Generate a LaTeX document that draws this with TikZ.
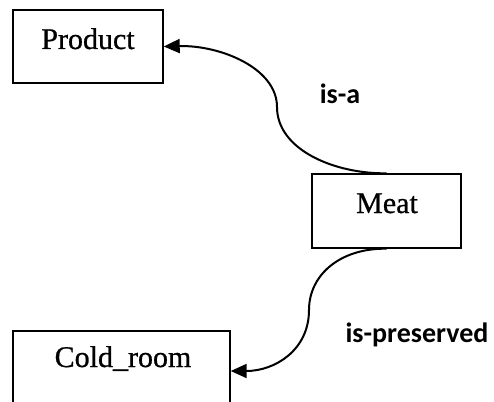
\documentclass[tikz,border=0pt]{standalone}
\usepackage{fontspec}
\setmainfont{Liberation Serif}
\newfontfamily\boxfont{Liberation Serif}[FakeBold=0.8]
\newfontfamily\labelfont{Carlito}
\usetikzlibrary{arrows.meta}
\begin{document}
\begin{tikzpicture}[x=1pt,y=-1pt,
  box/.style={draw, line width=1.4pt, minimum width=#1, inner sep=0pt},
  boxtext/.style={anchor=base, inner sep=0pt, font=\boxfont\fontsize{30}{32}\selectfont},
  rel/.style={anchor=base, inner sep=0pt, font=\labelfont\bfseries\fontsize{28}{30}\selectfont},
  link/.style={line width=2pt, -{Triangle[length=16pt,width=14pt]}}]
\useasboundingbox (0,0) rectangle (494,401);
\clip (0,0) rectangle (494,401);

% concept boxes
\node[box=150pt, minimum height=73pt] (productbox) at (88,46.5) {};
\node[box=149pt, minimum height=74pt] (meatbox) at (386.5,211) {};
\node[box=217pt, minimum height=80pt] (coldbox) at (121.5,371) {};

% box captions
\node[boxtext] (producttext) at (88,49) {Product};
\node[boxtext] (meattext) at (387,213) {Meat};
\node[boxtext] (coldtext) at (123,367) {Cold\_room};

% relations
\draw[link] (meatbox.north) .. controls (335,174) and (277,150) .. (277,107)
  .. controls (277,68) and (220,45) .. (productbox.east);
\draw[link] (meatbox.south) .. controls (340,248) and (309,275) .. (309,310)
  .. controls (309,350) and (275,371) .. (coldbox.east);

% relation labels
\node[rel] (isa) at (340,103) {is-a};
\node[rel] (ispreserved) at (417,342) {is-preserved};
\end{tikzpicture}
\end{document}
